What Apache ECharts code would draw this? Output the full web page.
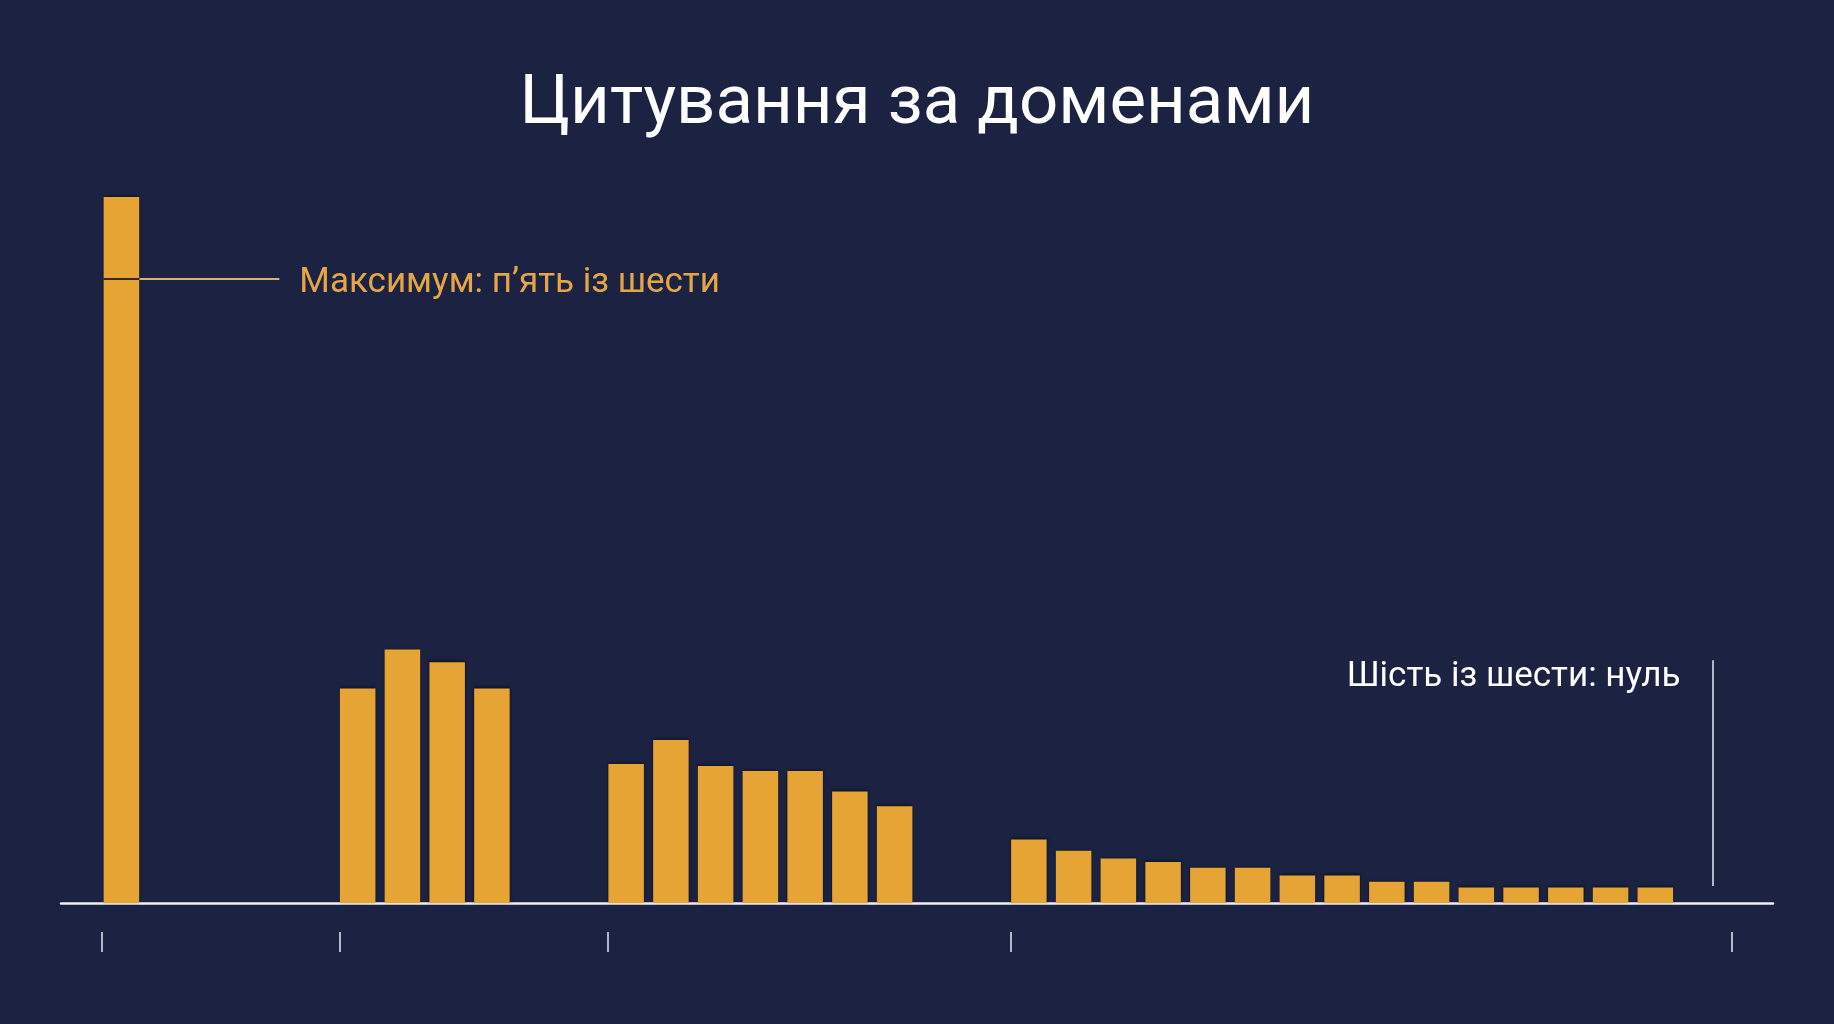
<!DOCTYPE html>
<html>
<head>
<meta charset="utf-8">
<script src="https://cdn.jsdelivr.net/npm/echarts@6/dist/echarts.min.js"></script>
<style>
  html, body { margin: 0; padding: 0; background: #1c2342; }
  #myChart { width: 1834px; height: 1024px; }
</style>
</head>
<body>
<div id="myChart"></div>
<script>
// групи доменів: де починається група на осі (у кроках стовпчика) і висоти стовпчиків
var groupStart = [-5.28, 0, 6, 15];
var groupValues = [
  [100],
  [30.4, 35.9, 34.1, 30.4],
  [19.7, 23.1, 19.4, 18.7, 18.7, 15.8, 13.7],
  [9.0, 7.4, 6.3, 5.8, 5.0, 5.0, 3.9, 3.9, 3.0, 3.0, 2.2, 2.2, 2.2, 2.2, 2.2]
];
// позначки під віссю
var tickSlots = [-5.33, 0, 6, 15, 31.1];

// підписи
var titleText = 'Цитування за доменами';
var maxNote = 'Максимум: п’ять із шести';
var maxNoteLevel = 88.4;      // висота лінії на першому стовпчику
var maxNoteEnd = -1.35;       // де закінчується лінія
var zeroNote = 'Шість із шести: нуль';
var zeroLineX = 30.68;
var zeroLineRange = [2.4, 34.4];

var barColor = '#e6a434';
var noteColor = '#e6a647';

// зібрати точки [x, y] для стовпчиків
var barData = [];
for (var g = 0; g < groupValues.length; g++) {
  for (var i = 0; i < groupValues[g].length; i++) {
    barData.push([groupStart[g] + i + 0.4, groupValues[g][i]]);
  }
}
var firstLeft = groupStart[0];
var firstRight = groupStart[0] + 0.8;

var myChart = echarts.init(document.getElementById('myChart'));

var option = {
  backgroundColor: '#1c2342',
  animation: false,
  title: {
    text: titleText,
    left: 'center',
    top: 66,
    textStyle: {
      color: '#ffffff',
      fontFamily: 'Roboto',
      fontWeight: 'normal',
      fontSize: 69
    }
  },
  grid: { left: 61, right: 61, top: 197, bottom: 121 },
  xAxis: [{
    type: 'value',
    min: -6.23,
    max: 32.03,
    axisLine: { show: true, lineStyle: { color: '#eef0f4', width: 2.5 } },
    axisTick: { show: false },
    axisLabel: { show: false },
    splitLine: { show: false }
  }, {
    type: 'value',
    position: 'bottom',
    offset: 29,
    min: -6.23,
    max: 32.03,
    axisLine: { show: false },
    axisTick: {
      show: true,
      length: 20,
      customValues: tickSlots,
      lineStyle: { color: '#e8eaf0', width: 1.5 }
    },
    axisLabel: { show: false },
    splitLine: { show: false }
  }],
  yAxis: {
    type: 'value',
    min: 0,
    max: 100,
    show: false
  },
  series: [{
    type: 'bar',
    data: barData,
    barWidth: 35.5,
    itemStyle: {
      color: barColor,
      shadowColor: 'rgba(0,0,0,0.55)',
      shadowBlur: 3,
      shadowOffsetY: -1
    },
    markLine: {
      silent: true,
      symbol: ['none', 'none'],
      label: { show: false },
      data: [
        [
          { coord: [firstRight, maxNoteLevel], lineStyle: { color: '#d8b27a', width: 2, type: 'solid' } },
          { coord: [maxNoteEnd, maxNoteLevel] }
        ],
        [
          { coord: [firstLeft, maxNoteLevel], lineStyle: { color: '#3a2a14', width: 2, type: 'solid' } },
          { coord: [firstRight, maxNoteLevel] }
        ],
        [
          { coord: [zeroLineX, zeroLineRange[0]], lineStyle: { color: '#e8eaf0', width: 1.5, type: 'solid' } },
          { coord: [zeroLineX, zeroLineRange[1]] }
        ]
      ]
    },
    markPoint: {
      silent: true,
      symbol: 'circle',
      symbolSize: 0,
      data: [{
        coord: [maxNoteEnd, maxNoteLevel],
        label: {
          show: true,
          position: 'right',
          distance: 20,
          offset: [0, 4],
          formatter: maxNote,
          color: noteColor,
          fontFamily: 'Roboto',
          fontSize: 35
        }
      }, {
        coord: [zeroLineX, zeroLineRange[1]],
        label: {
          show: true,
          position: 'left',
          distance: 32,
          offset: [0, 17],
          formatter: zeroNote,
          color: '#ffffff',
          fontFamily: 'Roboto',
          fontSize: 35
        }
      }]
    }
  }]
};

myChart.setOption(option);
</script>
</body>
</html>
